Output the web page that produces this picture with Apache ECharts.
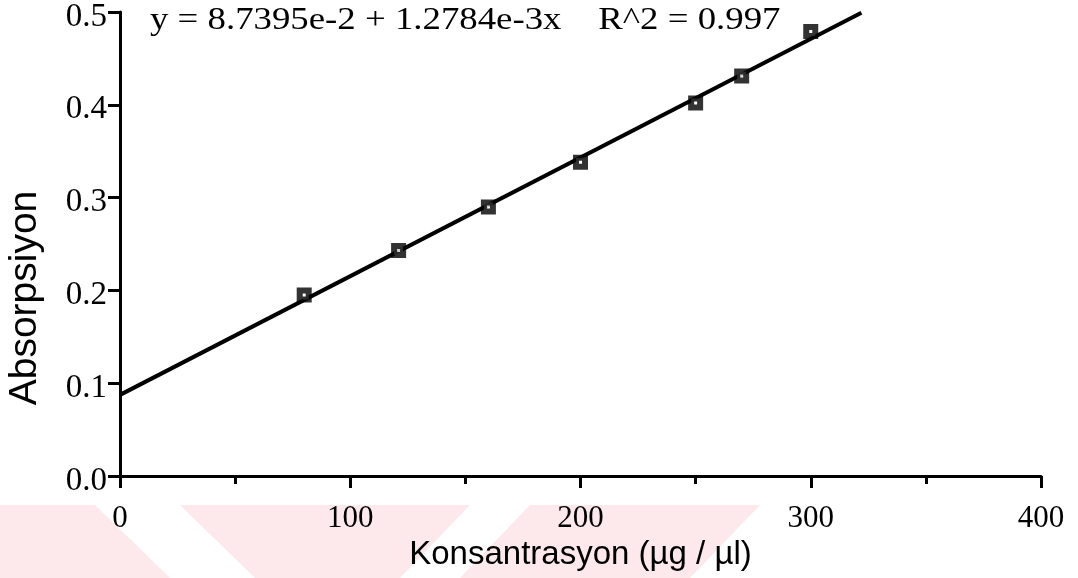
<!DOCTYPE html>
<html>
<head>
<meta charset="utf-8">
<script src="https://cdn.jsdelivr.net/npm/echarts@6/dist/echarts.min.js"></script>
<style>html,body{margin:0;padding:0;background:#fff}#c{width:1078px;height:578px}</style>
</head>
<body>
<div id="c"></div>
<script>
// Data
const concentration = [80, 121, 160, 200, 250, 270, 300];
const absorbance = [0.195, 0.243, 0.290, 0.338, 0.402, 0.431, 0.479];
// Regression line endpoints (as drawn)
const fitX = [0, 322];
const fitY = [0.0874, 0.4991];
const xTicks = [0, 100, 200, 300, 400];
const yTicks = [0.0, 0.1, 0.2, 0.3, 0.4, 0.5];
const equationText = 'y = 8.7395e-2 + 1.2784e-3x    R^2 = 0.997';
const xName = 'Konsantrasyon (\u00b5g / \u00b5l)';
const yName = 'Absorpsiyon';

const chart = echarts.init(document.getElementById('c'), null, {renderer: 'canvas'});
const serif = 'Liberation Serif';
const sans = 'Liberation Sans';
const pink = '#fde9ec';

const option = {
  backgroundColor: '#fff',
  animation: false,
  graphic: [
    {type: 'polygon', z: -10, shape: {points: [[0,505],[95,505],[170,578],[0,578]]}, style: {fill: pink}},
    {type: 'polygon', z: -10, shape: {points: [[180,505],[470,505],[400,578],[255,578]]}, style: {fill: pink}},
    {type: 'polygon', z: -10, shape: {points: [[530,505],[760,505],[690,578],[460,578]]}, style: {fill: pink}},
    {type: 'text', x: 150, y: 21, z: 10, scaleX: 1.15,
     style: {text: equationText, font: '32px "Liberation Serif"', fill: '#000', verticalAlign: 'middle'}},
    {type: 'text', x: 25, y: 298, rotation: Math.PI / 2, z: 10,
     style: {text: yName, font: '39px "Liberation Sans"', fill: '#000', align: 'center', verticalAlign: 'middle'}}
  ],
  grid: {left: 120, right: 37, top: 12, bottom: 102, containLabel: false, outerBoundsMode: 'none'},
  xAxis: {
    type: 'value', min: xTicks[0], max: xTicks[xTicks.length - 1], interval: 100,
    name: xName, nameLocation: 'middle', nameGap: 53,
    nameTextStyle: {fontFamily: sans, fontSize: 33, color: '#000'},
    axisLine: {lineStyle: {color: '#000', width: 3}},
    axisTick: {show: true, inside: false, length: 12, lineStyle: {color: '#000', width: 3}},
    minorTick: {show: true, splitNumber: 2, length: 8, lineStyle: {color: '#000', width: 3}},
    axisLabel: {fontFamily: serif, fontSize: 31, color: '#000', margin: 27},
    splitLine: {show: false}
  },
  yAxis: {
    type: 'value', min: yTicks[0], max: yTicks[yTicks.length - 1], interval: 0.1,
    axisLine: {show: true, lineStyle: {color: '#000', width: 3}},
    axisTick: {show: true, inside: false, length: 12, lineStyle: {color: '#000', width: 3}},
    axisLabel: {
      margin: 13,
      formatter: v => '{a|' + v.toFixed(1) + '}',
      rich: {a: {fontFamily: serif, fontSize: 33, color: '#000', padding: [10, 0, 0, 0]}}
    },
    splitLine: {show: false}
  },
  series: [
    {
      type: 'line', data: fitX.map((x, i) => [x, fitY[i]]),
      symbol: 'none', lineStyle: {color: '#000', width: 4}, z: 2
    },
    {
      type: 'scatter', data: concentration.map((x, i) => [x, absorbance[i]]),
      symbol: 'rect', symbolSize: 9,
      itemStyle: {color: '#fff', borderColor: '#000', borderWidth: 6}, z: 3
    }
  ]
};
chart.setOption(option);
</script>
</body>
</html>
